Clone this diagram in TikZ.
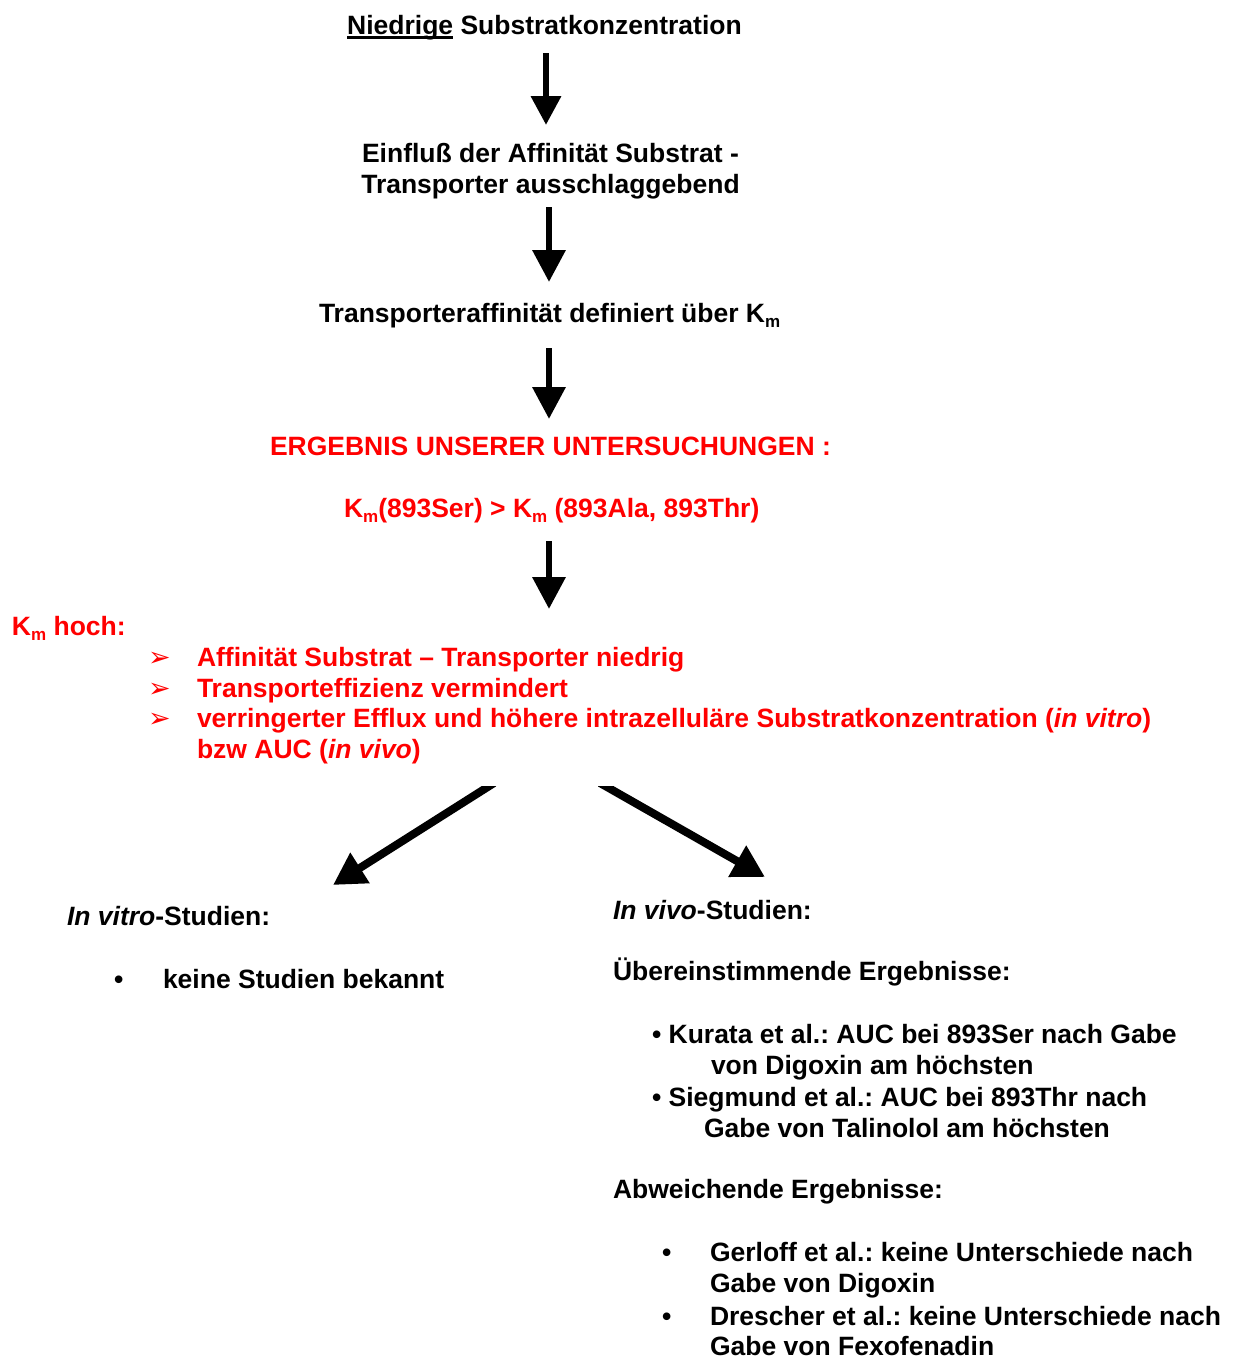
\documentclass[tikz,border=0pt]{standalone}
\usepackage{fontspec}
\setmainfont{Liberation Sans}
\newfontfamily\dejavu{DejaVu Sans}
\usetikzlibrary{arrows.meta}
\frenchspacing
\definecolor{pptred}{RGB}{255,0,0}
\newcommand\Km{K\raisebox{-0.2em}{\fontsize{17}{17}\selectfont m}}
\newcommand\arrbul{{\dejavu\fontsize{27}{27}\selectfont ➢}}
\newcommand\ulthick[1]{\setbox0\hbox{#1}\rlap{\rule[-4.5pt]{\wd0}{2.6pt}}\box0\relax}
\tikzset{
  txt/.style={inner sep=0pt, outer sep=0pt, font=\fontsize{26.5}{31}\selectfont\bfseries},
  lt/.style={txt, anchor=base west},
  ct/.style={txt, anchor=base},
  red/.style={text=pptred},
  bigarrow/.style={line width=6.5pt, -{Triangle[width=32pt,length=32pt]}},
  smallarrow/.style={line width=6.5pt, -{Triangle[width=29pt,length=29pt]}},
  diagarrow/.style={line width=8pt, -{Triangle[width=34pt,length=32pt]}}
}
\begin{document}
\begin{tikzpicture}[x=1pt,y=-1pt]
\useasboundingbox (0,0) rectangle (1235,1358);

\node[ct] (t1) at (544.5,34) {\ulthick{Niedrige} Substratkonzentration};
\node[ct] (t2a) at (550.5,162) {Einfluß der Affinität Substrat -};
\node[ct] (t2b) at (550.5,193) {Transporter ausschlaggebend};
\node[lt] (t3) at (319,322) {Transporteraffinität definiert über \Km};
\node[lt,red] (t4) at (270,455) {ERGEBNIS UNSERER UNTERSUCHUNGEN :};
\node[lt,red] (t5) at (344,517) {\Km(893Ser) > \Km\ (893Ala, 893Thr)};

\node[lt,red] (kh) at (12,635) {\Km\ hoch:};
\node[lt,red] (b1m) at (148,666) {\arrbul};
\node[lt,red] (b1) at (197,666) {Affinität Substrat – Transporter niedrig};
\node[lt,red] (b2m) at (148,697) {\arrbul};
\node[lt,red] (b2) at (197,697) {Transporteffizienz vermindert};
\node[lt,red] (b3m) at (148,727) {\arrbul};
\node[lt,red] (b3) at (197,727) {verringerter Efflux und höhere intrazelluläre Substratkonzentration (\textit{in vitro})};
\node[lt,red] (b3b) at (197,758) {bzw AUC (\textit{in vivo})};

\node[lt] (iv) at (67,925) {\textit{In vitro}-Studien:};
\node[lt] (ivbm) at (114,988) {•};
\node[lt] (ivb) at (163,988) {keine Studien bekannt};

\node[lt] (vv) at (613,919) {\textit{In vivo}-Studien:};
\node[lt] (ue) at (613,980) {Übereinstimmende Ergebnisse:};
\node[lt] (k1) at (652,1043) {• Kurata et al.: AUC bei 893Ser nach Gabe};
\node[lt] (k2) at (711,1074) {von Digoxin am höchsten};
\node[lt] (s1) at (652,1106) {• Siegmund et al.: AUC bei 893Thr nach};
\node[lt] (s2) at (704,1137) {Gabe von Talinolol am höchsten};
\node[lt] (ab) at (613,1198) {Abweichende Ergebnisse:};
\node[lt] (g0) at (662,1261) {•};
\node[lt] (g1) at (710,1261) {Gerloff et al.: keine Unterschiede nach};
\node[lt] (g2) at (710,1292) {Gabe von Digoxin};
\node[lt] (d0) at (662,1325) {•};
\node[lt] (d1) at (710,1325) {Drescher et al.: keine Unterschiede nach};
\node[lt] (d2) at (710,1355) {Gabe von Fexofenadin};

\coordinate (a1s) at (546,53);  \coordinate (a1e) at (546,125);
\coordinate (a2s) at (549,207); \coordinate (a2e) at (549,282);
\coordinate (a3s) at (549,348); \coordinate (a3e) at (549,419);
\coordinate (a4s) at (549,541); \coordinate (a4e) at (549,609);
\coordinate (ls) at (494,783); \coordinate (le) at (333,885);
\coordinate (rs) at (600,783); \coordinate (re) at (765,877);

\draw[smallarrow] (a1s) -- (a1e);
\draw[bigarrow] (a2s) -- (a2e);
\draw[bigarrow] (a3s) -- (a3e);
\draw[bigarrow] (a4s) -- (a4e);
\begin{scope}
\clip (0,786) rectangle (1235,1358);
\draw[diagarrow] (ls) -- (le);
\draw[diagarrow] (rs) -- (re);
\end{scope}
\end{tikzpicture}
\end{document}
